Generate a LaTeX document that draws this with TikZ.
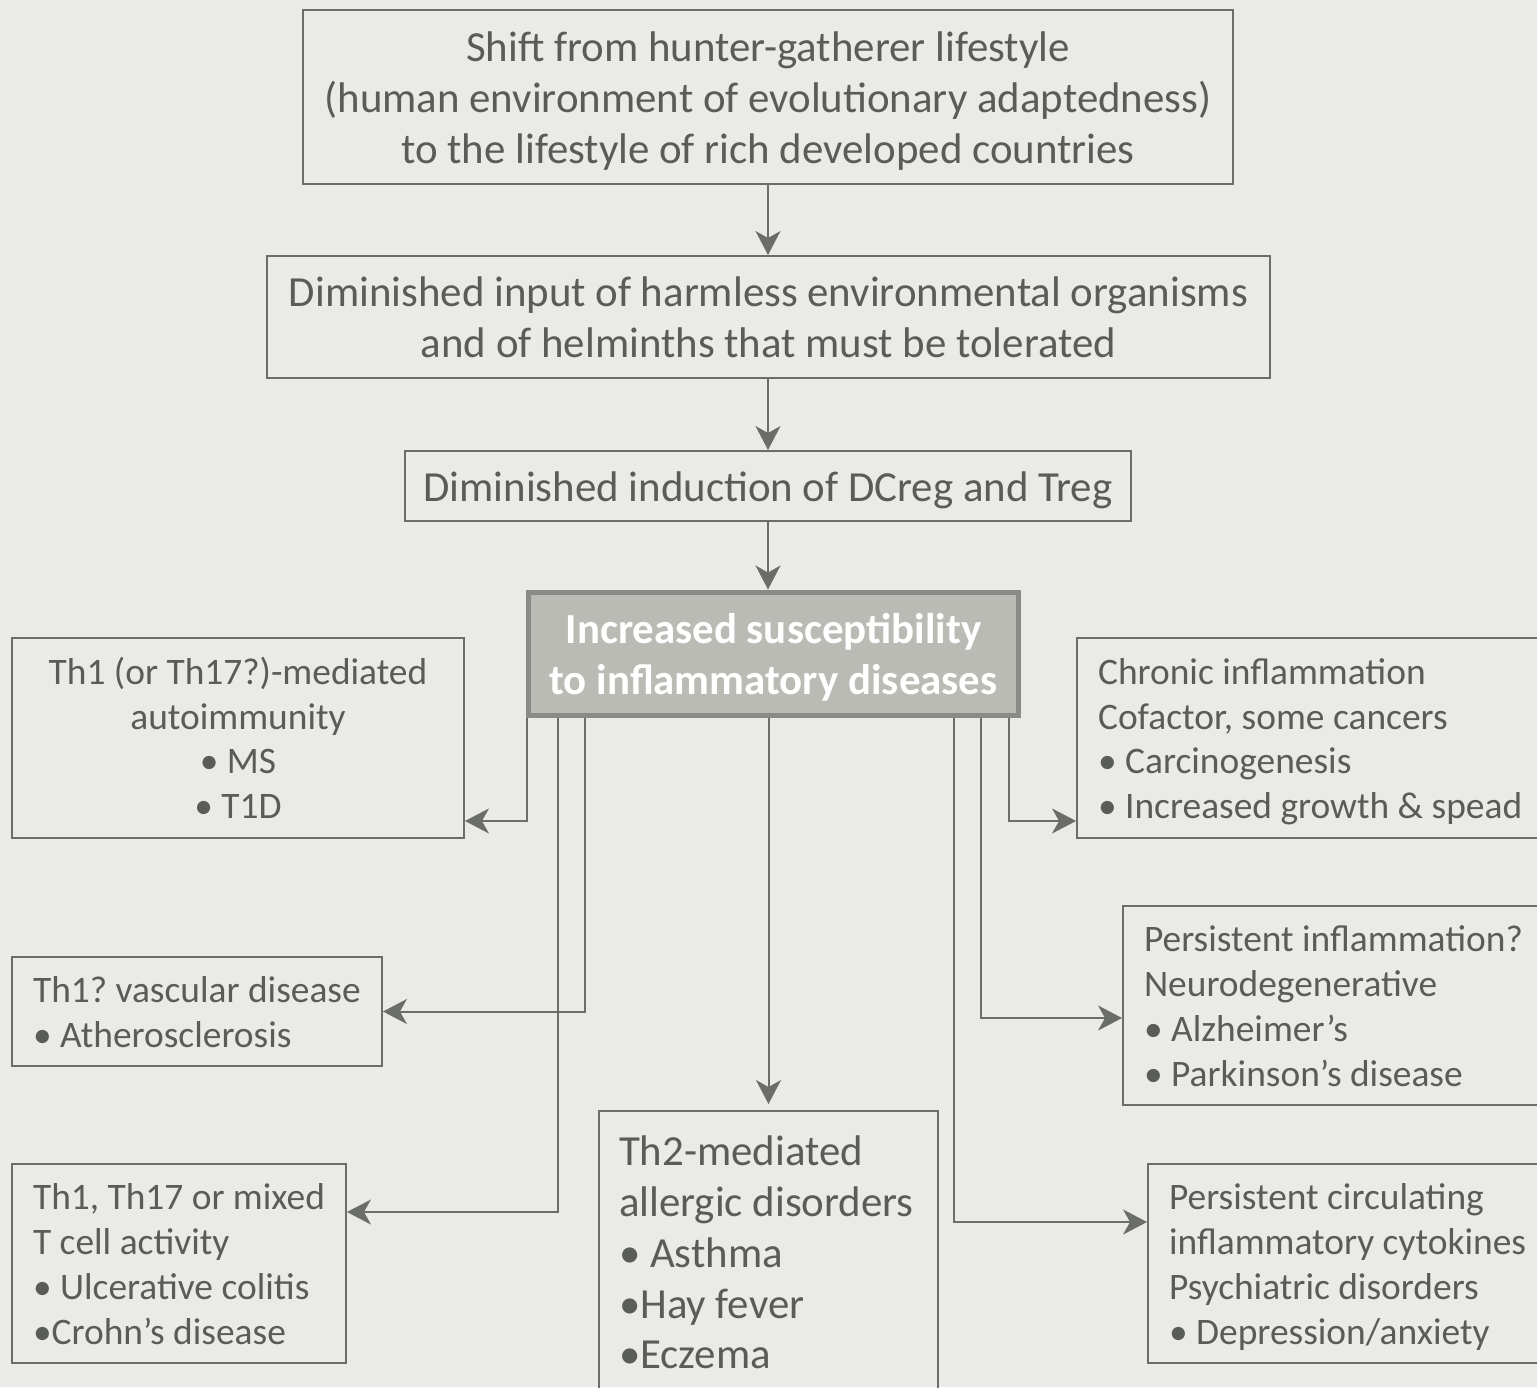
\documentclass[tikz,border=0pt]{standalone}
\usepackage{fontspec}
\setmainfont{Carlito}
\usetikzlibrary{arrows.meta}
\frenchspacing
\definecolor{bggray}{RGB}{234,234,232}
\definecolor{txtgray}{RGB}{90,93,87}
\definecolor{boxline}{RGB}{107,109,105}
\definecolor{keyfill}{RGB}{187,187,182}
\definecolor{keyline}{RGB}{138,139,136}
\newcommand\linestrut{\rule[-0.2\baselineskip]{0pt}{\baselineskip}}
\tikzset{
  boxtext/.style={execute at begin node=\linestrut, execute at end node=\linestrut},
  bigbox/.style={boxtext, draw=boxline, line width=0.04cm, text=txtgray, align=flush center,
    inner sep=0pt, font=\fontsize{24.4}{28.9}\selectfont},
  smallbox/.style={boxtext, draw=boxline, line width=0.04cm, text=txtgray, align=flush center,
    inner sep=0pt, font=\fontsize{21.3}{25.5}\selectfont},
  listbox/.style={smallbox, align=flush left, inner xsep=0.42cm},
  keybox/.style={boxtext, draw=keyline, fill=keyfill, line width=0.1cm, text=white,
    align=flush center, inner sep=0pt, font=\bfseries\fontsize{24.4}{28.9}\selectfont},
  arr/.style={draw=boxline, line width=0.04cm,
    -{Stealth[length=0.48cm,width=0.5cm,inset=0.14cm]}}
}
\begin{document}
\begin{tikzpicture}[x=0.02cm,y=-0.02cm]
  \useasboundingbox (0,0) rectangle (1537,1387);
  \fill[bggray] (0,0) rectangle (1537,1387);
  \clip (0,0) rectangle (1537,1387);
  % chain down the middle
  \node[bigbox, text width=18.6cm, minimum height=3.48cm] (shift) at (768,97)
    {Shift from hunter-gatherer lifestyle\\(human environment of evolutionary adaptedness)\\to the lifestyle of rich developed countries};
  \node[bigbox, text width=20.06cm, minimum height=2.44cm] (input) at (768.5,317)
    {Diminished input of harmless environmental organisms\\and of helminths that must be tolerated};
  \node[bigbox, text width=14.52cm, minimum height=1.4cm] (induct) at (768,486)
    {Diminished induction of DCreg and Treg};
  \node[keybox, text width=9.82cm, minimum height=2.46cm] (suscept) at (773.5,653.5)
    {Increased susceptibility\\to inflammatory diseases};
  % diseases
  \node[smallbox, text width=9.04cm, minimum height=4cm] (autoimm) at (238,738)
    {Th1 (or Th17?)-mediated\\autoimmunity\\• MS\\• T1D};
  \node[listbox, text width=8.82cm, minimum height=4cm] (cancer) at (1318.5,738)
    {Chronic inflammation\\Cofactor, some cancers\\• Carcinogenesis\\• Increased growth \& spead};
  \node[listbox, text width=6.56cm, minimum height=2.18cm] (vascular) at (197,1011.5)
    {Th1? vascular disease\\• Atherosclerosis};
  \node[listbox, text width=7.9cm, minimum height=3.98cm] (neuro) at (1341.5,1005.5)
    {Persistent inflammation?\\Neurodegenerative\\• Alzheimer’s\\• Parkinson’s disease};
  \node[listbox, text width=5.84cm, minimum height=3.98cm] (bowel) at (179,1263.5)
    {Th1, Th17 or mixed\\T cell activity\\• Ulcerative colitis\\•Crohn’s disease};
  \node[listbox, inner xsep=0.4cm, text width=5.98cm, minimum height=5.64cm,
    font=\fontsize{24.4}{28.9}\selectfont] (allergy) at (768.5,1252)
    {Th2-mediated\\allergic disorders\\• Asthma\\•Hay fever\\•Eczema};
  \node[listbox, text width=7.4cm, minimum height=3.98cm] (psych) at (1354,1263.5)
    {Persistent circulating\\inflammatory cytokines\\Psychiatric disorders\\• Depression/anxiety};
  % connectors
  \draw[arr] (shift.south) -- (input.north -| shift.south);
  \draw[arr] (input.south -| induct.north) -- (induct.north);
  \draw[arr] (induct.south) -- (suscept.north -| induct.south);
  \draw[arr, shorten >=0.12cm] (suscept.south -| allergy.north) -- (allergy.north);
  \draw[arr] ([xshift=0.02cm]suscept.south west) |- ([yshift=-1.66cm]autoimm.east);
  \draw[arr] ([xshift=1.18cm]suscept.south west) |- (vascular.east);
  \draw[arr] ([xshift=0.64cm]suscept.south west) |- ([yshift=1.03cm]bowel.east);
  \draw[arr] ([xshift=-0.24cm]suscept.south east) |- ([yshift=-1.66cm]cancer.west);
  \draw[arr] ([xshift=-0.8cm]suscept.south east) |- ([yshift=-0.25cm]neuro.west);
  \draw[arr] ([xshift=-1.34cm]suscept.south east) |- ([yshift=0.83cm]psych.west);
\end{tikzpicture}
\end{document}
